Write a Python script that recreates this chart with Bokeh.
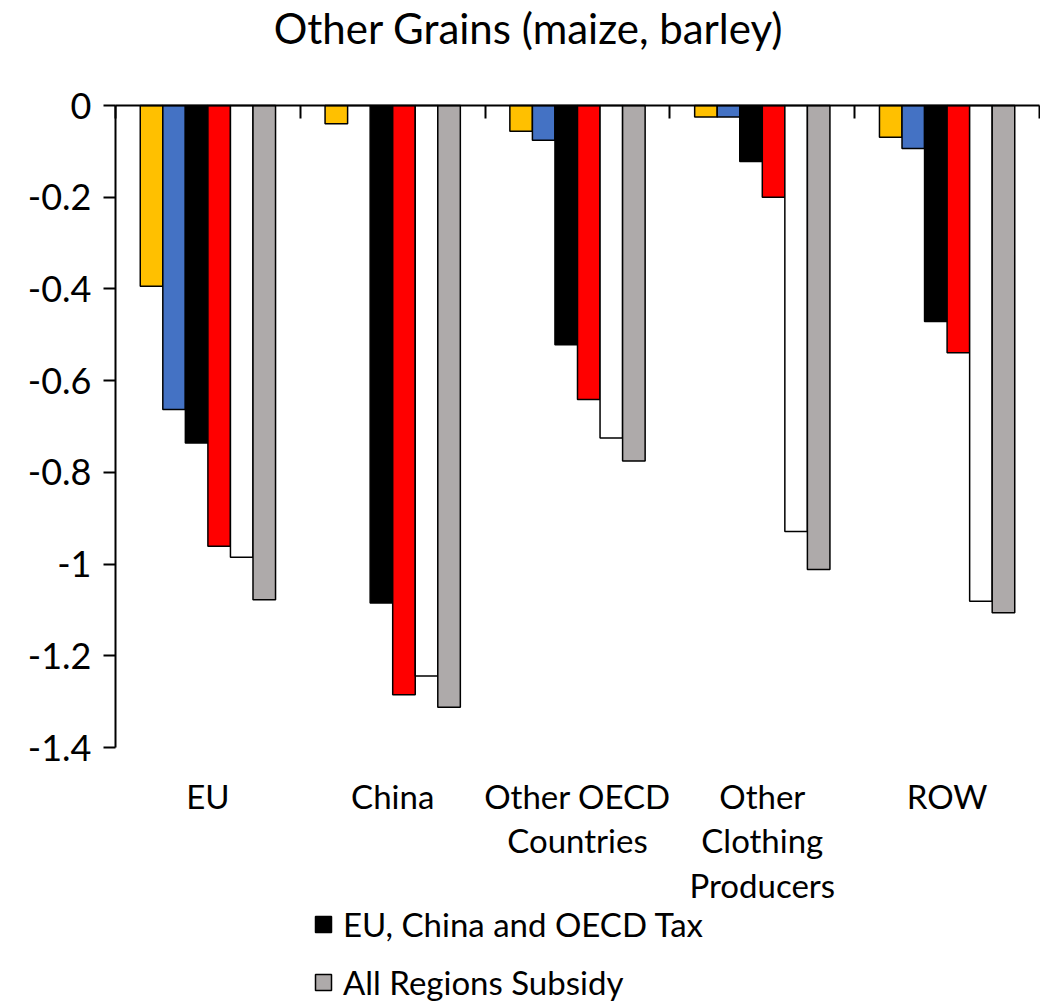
from bokeh.plotting import figure
from bokeh.models import (ColumnDataSource, Range1d, FixedTicker, LinearAxis, Legend, LegendItem, Label)
from bokeh.transform import dodge
from bokeh.embed import file_html
from bokeh.resources import INLINE

# ---------------- data ----------------
categories = ["EU", "China", "Other OECD\nCountries", "Other\nClothing\nProducers", "ROW"]
title_text = "Other Grains (maize, barley)"

yellow_vals = [-0.394, -0.040, -0.056, -0.025, -0.069]
blue_vals   = [-0.663,  0.000, -0.076, -0.025, -0.094]
black_vals  = [-0.736, -1.085, -0.522, -0.122, -0.471]   # EU, China and OECD Tax
red_vals    = [-0.961, -1.285, -0.641, -0.200, -0.539]
white_vals  = [-0.985, -1.244, -0.725, -0.929, -1.081]
gray_vals   = [-1.078, -1.312, -0.775, -1.012, -1.106]   # All Regions Subsidy

legend_labels = {"black": "EU, China and OECD Tax", "gray": "All Regions Subsidy"}

y_min, y_max = -1.4, 0.0
y_ticks = [0, -0.2, -0.4, -0.6, -0.8, -1.0, -1.2, -1.4]
y_tick_labels = ["0", "-0.2", "-0.4", "-0.6", "-0.8", "-1", "-1.2", "-1.4"]

series = [
    ("yellow", yellow_vals, "#FFC000"),
    ("blue", blue_vals, "#4472C4"),
    ("black", black_vals, "#000000"),
    ("red", red_vals, "#FF0000"),
    ("white", white_vals, "#FFFFFF"),
    ("gray", gray_vals, "#AEAAAA"),
]

# ---------------- layout (pixels) ----------------
W, H = 1040, 1002
AX_LEFT, AX_RIGHT = 115, 1039      # plot area left/right edges
AX_TOP, AX_BOTTOM = 105, 747       # y = 0 and y = -1.4
FONT = "Lato"

ncat = len(categories)
px_x = (AX_RIGHT - AX_LEFT) / ncat
px_y = (AX_BOTTOM - AX_TOP) / (y_max - y_min)
x_range = Range1d(-AX_LEFT / px_x, (W - AX_LEFT) / px_x)
y_range = Range1d(y_min - (H - AX_BOTTOM) / px_y, y_max + AX_TOP / px_y)

centers = [i + 0.5 for i in range(ncat)]
src = ColumnDataSource(dict(x=centers, **{name: vals for name, vals, _ in series}))

p = figure(width=W, height=H, output_backend="svg", toolbar_location=None,
           x_range=x_range, y_range=y_range,
           x_axis_location=None, y_axis_location=None,
           min_border=0)
p.outline_line_color = None
p.grid.visible = False
p.background_fill_color = "white"
p.border_fill_color = "white"

bar_w = 0.122
renderers = {}
n = len(series)
for k, (name, vals, color) in enumerate(series):
    off = (k - (n - 1) / 2) * bar_w
    r = p.vbar(x=dodge("x", off), top=name, bottom=0, width=bar_w, source=src,
               fill_color=color, line_color="black", line_width=1.5)
    renderers[name] = r

# y axis at the left edge of the plot area
yax = LinearAxis(fixed_location=0, bounds=(y_min, y_max), ticker=FixedTicker(ticks=y_ticks),
                 major_label_overrides={t: l for t, l in zip(y_ticks, y_tick_labels)})
yax.axis_line_width = 2
yax.major_tick_line_width = 2
yax.major_tick_in = 0
yax.major_tick_out = 12
yax.minor_tick_line_color = None
yax.major_label_standoff = 12
yax.major_label_text_font = FONT
yax.major_label_text_font_size = "36px"
yax.major_label_text_color = "black"
p.add_layout(yax, "left")

# horizontal axis line at zero with category separators
tax = LinearAxis(fixed_location=0, bounds=(0, ncat), ticker=FixedTicker(ticks=list(range(ncat + 1))))
tax.axis_line_width = 2
tax.major_tick_line_width = 2
tax.major_tick_in = 13
tax.major_tick_out = 0
tax.minor_tick_line_color = None
tax.major_label_text_color = None
p.add_layout(tax, "above")

# category labels below the plot area
bax = LinearAxis(fixed_location=y_min, ticker=FixedTicker(ticks=centers),
                 major_label_overrides={c: lab for c, lab in zip(centers, categories)})
bax.axis_line_color = None
bax.major_tick_line_color = None
bax.minor_tick_line_color = None
bax.major_label_standoff = 22
bax.major_label_text_font = FONT
bax.major_label_text_font_size = "33px"
bax.major_label_text_color = "black"
bax.major_label_text_line_height = 1.12
p.add_layout(bax, "below")

title = Label(x=528, y=H - 27, x_units="screen", y_units="screen", text=title_text,
              text_align="center", text_baseline="middle", text_font=FONT,
              text_font_size="42px", text_color="black")
p.add_layout(title)

legend = Legend(items=[LegendItem(label=legend_labels["black"], renderers=[renderers["black"]]),
                       LegendItem(label=legend_labels["gray"], renderers=[renderers["gray"]])],
                location=(313, 0), orientation="vertical",
                glyph_width=20, glyph_height=20, label_standoff=10, spacing=18,
                padding=0, margin=0, border_line_color=None, background_fill_alpha=0,
                label_text_font=FONT, label_text_font_size="33px", label_text_color="black")
p.add_layout(legend, "center")

open("out.html", "w").write(file_html(p, INLINE))
